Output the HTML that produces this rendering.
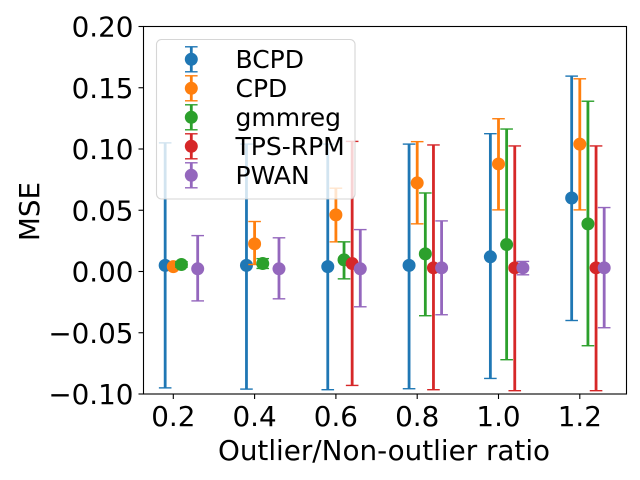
<!DOCTYPE html>
<html>
<head>
<meta charset="utf-8">
<style>
html,body{margin:0;padding:0;background:#fff;width:640px;height:480px;overflow:hidden}
svg{display:block}
text{font-family:"DejaVu Sans","Liberation Sans",sans-serif;fill:#000}
</style>
</head>
<body>
<svg id="chart" width="640" height="480" viewBox="0 0 640 480" xmlns="http://www.w3.org/2000/svg">
<rect width="640" height="480" fill="#fff"/>
<g id="grid-ticks"></g>
<g id="series"></g>
<g id="legend"></g>
<g id="spines"></g>
<text transform="translate(39,211.5) rotate(-90)" text-anchor="middle" font-size="27.8">MSE</text>
<text x="384" y="460" text-anchor="middle" font-size="27.8">Outlier/Non-outlier ratio</text>
</svg>
<script>
const categories = [0.2, 0.4, 0.6, 0.8, 1.0, 1.2];
const seriesNames = ["BCPD", "CPD", "gmmreg", "TPS-RPM", "PWAN"];
const seriesColors = ["#1f77b4", "#ff7f0e", "#2ca02c", "#d62728", "#9467bd"];
const seriesOffsets = [-0.02, 0, 0.02, 0.04, 0.06];
const xTickLabels = ["0.2", "0.4", "0.6", "0.8", "1.0", "1.2"];
const yTickValues = [-0.10, -0.05, 0, 0.05, 0.10, 0.15, 0.20];

const bcpdMean = [0.005, 0.005, 0.004, 0.005, 0.012, 0.060];
const bcpdLow = [-0.095, -0.096, -0.0965, -0.0957, -0.0873, -0.040];
const bcpdHigh = [0.105, 0.104, 0.104, 0.104, 0.1125, 0.1595];

const cpdMean = [0.004, 0.0226, 0.0462, 0.0723, 0.0878, 0.104];
const cpdLow = [0.003, 0.0057, 0.0242, 0.0389, 0.0503, 0.0503];
const cpdHigh = [0.005, 0.0408, 0.068, 0.106, 0.1247, 0.1573];

const gmmregMean = [0.0057, 0.0065, 0.0095, 0.0144, 0.022, 0.0389];
const gmmregLow = [0.0035, 0.0025, -0.006, -0.0361, -0.072, -0.0606];
const gmmregHigh = [0.008, 0.0105, 0.0242, 0.0641, 0.1163, 0.139];

const tpsMean = [null, null, 0.0065, 0.003, 0.003, 0.003];
const tpsLow = [null, null, -0.093, -0.0965, -0.0973, -0.0973];
const tpsHigh = [null, null, 0.1062, 0.1033, 0.1025, 0.1025];

const pwanMean = [0.0022, 0.0022, 0.0022, 0.003, 0.003, 0.003];
const pwanLow = [-0.024, -0.0223, -0.0288, -0.0353, -0.0027, -0.0459];
const pwanHigh = [0.0293, 0.0275, 0.0342, 0.0413, 0.0082, 0.0522];

const seriesMeans = [bcpdMean, cpdMean, gmmregMean, tpsMean, pwanMean];
const seriesLows = [bcpdLow, cpdLow, gmmregLow, tpsLow, pwanLow];
const seriesHighs = [bcpdHigh, cpdHigh, gmmregHigh, tpsHigh, pwanHigh];

const NS = "http://www.w3.org/2000/svg";
const plot = { left: 143.5, right: 626.5, top: 26.5, bottom: 394 };
function xScale(v) { return 173.3 + (v - 0.2) * 406.5; }
function yScale(v) { return plot.bottom - (v + 0.1) / 0.3 * (plot.bottom - plot.top); }
function mk(tag, attrs, parent) {
  const el = document.createElementNS(NS, tag);
  for (const k in attrs) el.setAttribute(k, attrs[k]);
  parent.appendChild(el);
  return el;
}

const tickG = document.getElementById("grid-ticks");
yTickValues.forEach(function (v) {
  const y = yScale(v);
  const t = mk("line", { x1: plot.left - 5, x2: plot.left, y1: y, y2: y, stroke: "#000", "stroke-width": 1.1 }, tickG);
  
  
  const l = mk("text", { x: plot.left - 10, y: y + 10, "text-anchor": "end", "font-size": 27.8 }, tickG);
  
  
  l.textContent = (v < 0 ? "\u2212" : "") + Math.abs(v).toFixed(2);
});
categories.forEach(function (v, i) {
  const x = xScale(v);
  const t = mk("line", { x1: x, x2: x, y1: plot.bottom, y2: plot.bottom + 5, stroke: "#000", "stroke-width": 1.1 }, tickG);
  
  
  const l = mk("text", { x: x, y: plot.bottom + 32, "text-anchor": "middle", "font-size": 27.8 }, tickG);
  
  
  l.textContent = xTickLabels[i];
});

const seriesG = document.getElementById("series");
seriesNames.forEach(function (name, s) {
  const g = mk("g", {}, seriesG);
  
  
  const color = seriesColors[s];
  categories.forEach(function (c, i) {
    if (seriesMeans[s][i] === null) return;
    const x = xScale(c + seriesOffsets[s]);
    const yh = yScale(seriesHighs[s][i]);
    const yl = yScale(seriesLows[s][i]);
    const ym = yScale(seriesMeans[s][i]);
    const bar = mk("line", { x1: x, x2: x, y1: yh, y2: yl, stroke: color, "stroke-width": 2.8 }, g);
    
    
    [yh, yl].forEach(function (yc) {
      const cap = mk("line", { x1: x - 6.3, x2: x + 6.3, y1: yc, y2: yc, stroke: color, "stroke-width": 1.4 }, g);
      
      
    });
    const pt = mk("circle", { cx: x, cy: ym, r: 6.5, fill: color }, g);
    
    
  });
});

const legendG = document.getElementById("legend");
const box = mk("rect", { x: 156.5, y: 39.5, width: 198.5, height: 159.5, rx: 5, ry: 5, fill: "#fff", "fill-opacity": 0.8, stroke: "#ccc", "stroke-opacity": 0.8, "stroke-width": 1.1 }, legendG);


seriesNames.forEach(function (name, s) {
  const y = 59.3 + s * 29;
  const color = seriesColors[s];
  const hx = 191.3;
  const g = mk("g", {}, legendG);
  
  
  mk("line", { x1: hx, x2: hx, y1: y - 12.5, y2: y + 12.5, stroke: color, "stroke-width": 2.8 }, g);
  mk("line", { x1: hx - 6.3, x2: hx + 6.3, y1: y - 12.5, y2: y - 12.5, stroke: color, "stroke-width": 1.4 }, g);
  mk("line", { x1: hx - 6.3, x2: hx + 6.3, y1: y + 12.5, y2: y + 12.5, stroke: color, "stroke-width": 1.4 }, g);
  mk("circle", { cx: hx, cy: y, r: 6.5, fill: color }, g);
  const t = mk("text", { x: 235.5, y: y + 8.5, "font-size": 25 }, g);
  
  
  t.textContent = name;
});

const spinesG = document.getElementById("spines");
const frame = mk("rect", { x: plot.left, y: plot.top, width: plot.right - plot.left, height: plot.bottom - plot.top, fill: "none", stroke: "#000", "stroke-width": 1.1 }, spinesG);


</script>
</body>
</html>
